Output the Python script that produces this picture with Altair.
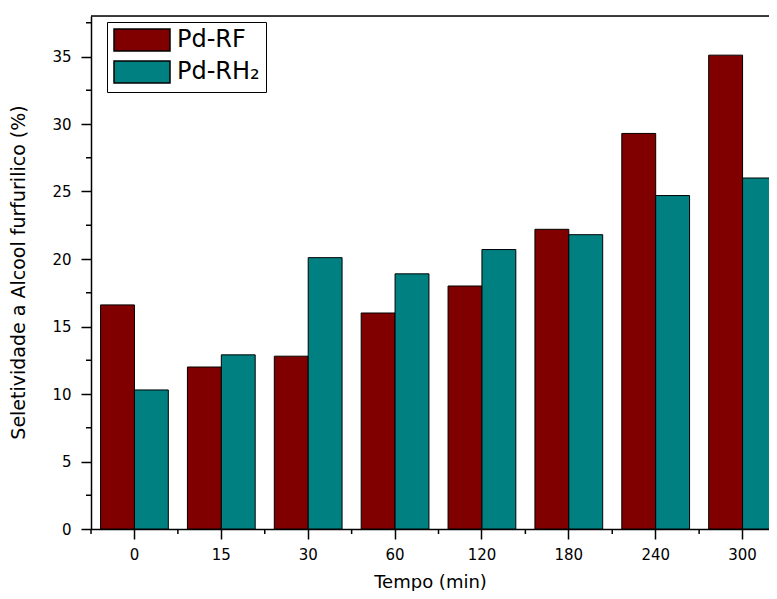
import altair as alt
import pandas as pd

tempos = ["0", "15", "30", "60", "120", "180", "240", "300"]
series_names = ["Pd-RF", "Pd-RH₂"]
pd_rf = [16.6, 12.0, 12.8, 16.0, 18.0, 22.2, 29.3, 35.1]
pd_rh2 = [10.3, 12.9, 20.1, 18.9, 20.7, 21.8, 24.7, 26.0]
colors = ["#800000", "#008080"]
y_major = [0, 5, 10, 15, 20, 25, 30, 35]
y_minor = [2.5, 7.5, 12.5, 17.5, 22.5, 27.5, 32.5, 37.5]

rows = []
for t, a, b in zip(tempos, pd_rf, pd_rh2):
    rows.append({"tempo": t, "serie": series_names[0], "valor": a})
    rows.append({"tempo": t, "serie": series_names[1], "valor": b})
df = pd.DataFrame(rows)

FONT = "DejaVu Sans"
W, H = 678, 513

xscale = alt.Scale(domain=tempos, range=[0, 695], paddingInner=0.22, paddingOuter=0.11)
yscale = alt.Scale(domain=[0, 38], nice=False)

bars = alt.Chart(df).mark_bar(stroke="black", strokeWidth=1).encode(
    x=alt.X("tempo:N", sort=tempos, scale=xscale,
            axis=alt.Axis(title="Tempo (min)", labelAngle=0, domain=True, domainColor="black",
                          domainWidth=1.5, tickSize=10,
                          tickWidth=1.5, tickColor="black", labelPadding=8,
                          labelFont=FONT, labelFontSize=15, labelColor="black",
                          titleFont=FONT, titleFontSize=18, titleFontWeight="normal",
                          titleColor="black", titleX=339, titleY=58,
                          titleBaseline="alphabetic", grid=False)),
    xOffset=alt.XOffset("serie:N", sort=series_names, scale=alt.Scale(paddingInner=0, paddingOuter=0)),
    y=alt.Y("valor:Q", scale=yscale,
            axis=alt.Axis(title="Seletividade a Alcool furfurilico (%)", values=y_major,
                          domain=True, domainColor="black", domainWidth=1.5,
                          tickSize=10, tickWidth=1.5, tickColor="black",
                          labelPadding=10, labelFont=FONT, labelFontSize=15, labelColor="black",
                          titleFont=FONT, titleFontSize=19, titleFontWeight="normal",
                          titleColor="black", titleX=-67, titleY=256,
                          titleBaseline="alphabetic", grid=False)),
    color=alt.Color("serie:N", sort=series_names,
                    scale=alt.Scale(domain=series_names, range=colors),
                    legend=alt.Legend(title=None, orient="none", legendX=16, legendY=6,
                                      strokeColor="black", padding=6, fillColor="white",
                                      symbolType="M-2.545,-1H2.545V1H-2.545Z", symbolSize=484,
                                      symbolOffset=17,
                                      symbolStrokeColor="black", symbolStrokeWidth=1.5,
                                      symbolOpacity=1,
                                      labelFont=FONT, labelFontSize=24, labelColor="black",
                                      labelOffset=23, rowPadding=4)),
)

top_line = alt.Chart(pd.DataFrame({"k": [0]})).mark_rule(color="black", strokeWidth=1.5).encode(
    x=alt.value(0), x2=alt.value(W + 20), y=alt.value(0),
)

minor_x = alt.Chart(pd.DataFrame({"tempo": tempos})).mark_rule(
    color="black", strokeWidth=1.5, xOffset=-9.55).encode(
    x=alt.X("tempo:N", sort=tempos, scale=xscale, bandPosition=0),
    y=alt.value(H),
    y2=alt.value(H + 5),
)

minor_y = alt.Chart(pd.DataFrame({"v": y_minor})).mark_rule(color="black", strokeWidth=1.5).encode(
    y=alt.Y("v:Q", scale=yscale),
    x=alt.value(-5),
    x2=alt.value(0),
)

chart = alt.layer(bars, top_line, minor_x, minor_y).properties(
    width=W, height=H,
    autosize=alt.AutoSizeParams(type="none"),
    padding={"left": 83, "top": 8, "right": 0, "bottom": 62},
).configure_view(stroke=None).configure(background="white")

chart.save("out.html", embed_options={"renderer": "svg", "actions": False})
